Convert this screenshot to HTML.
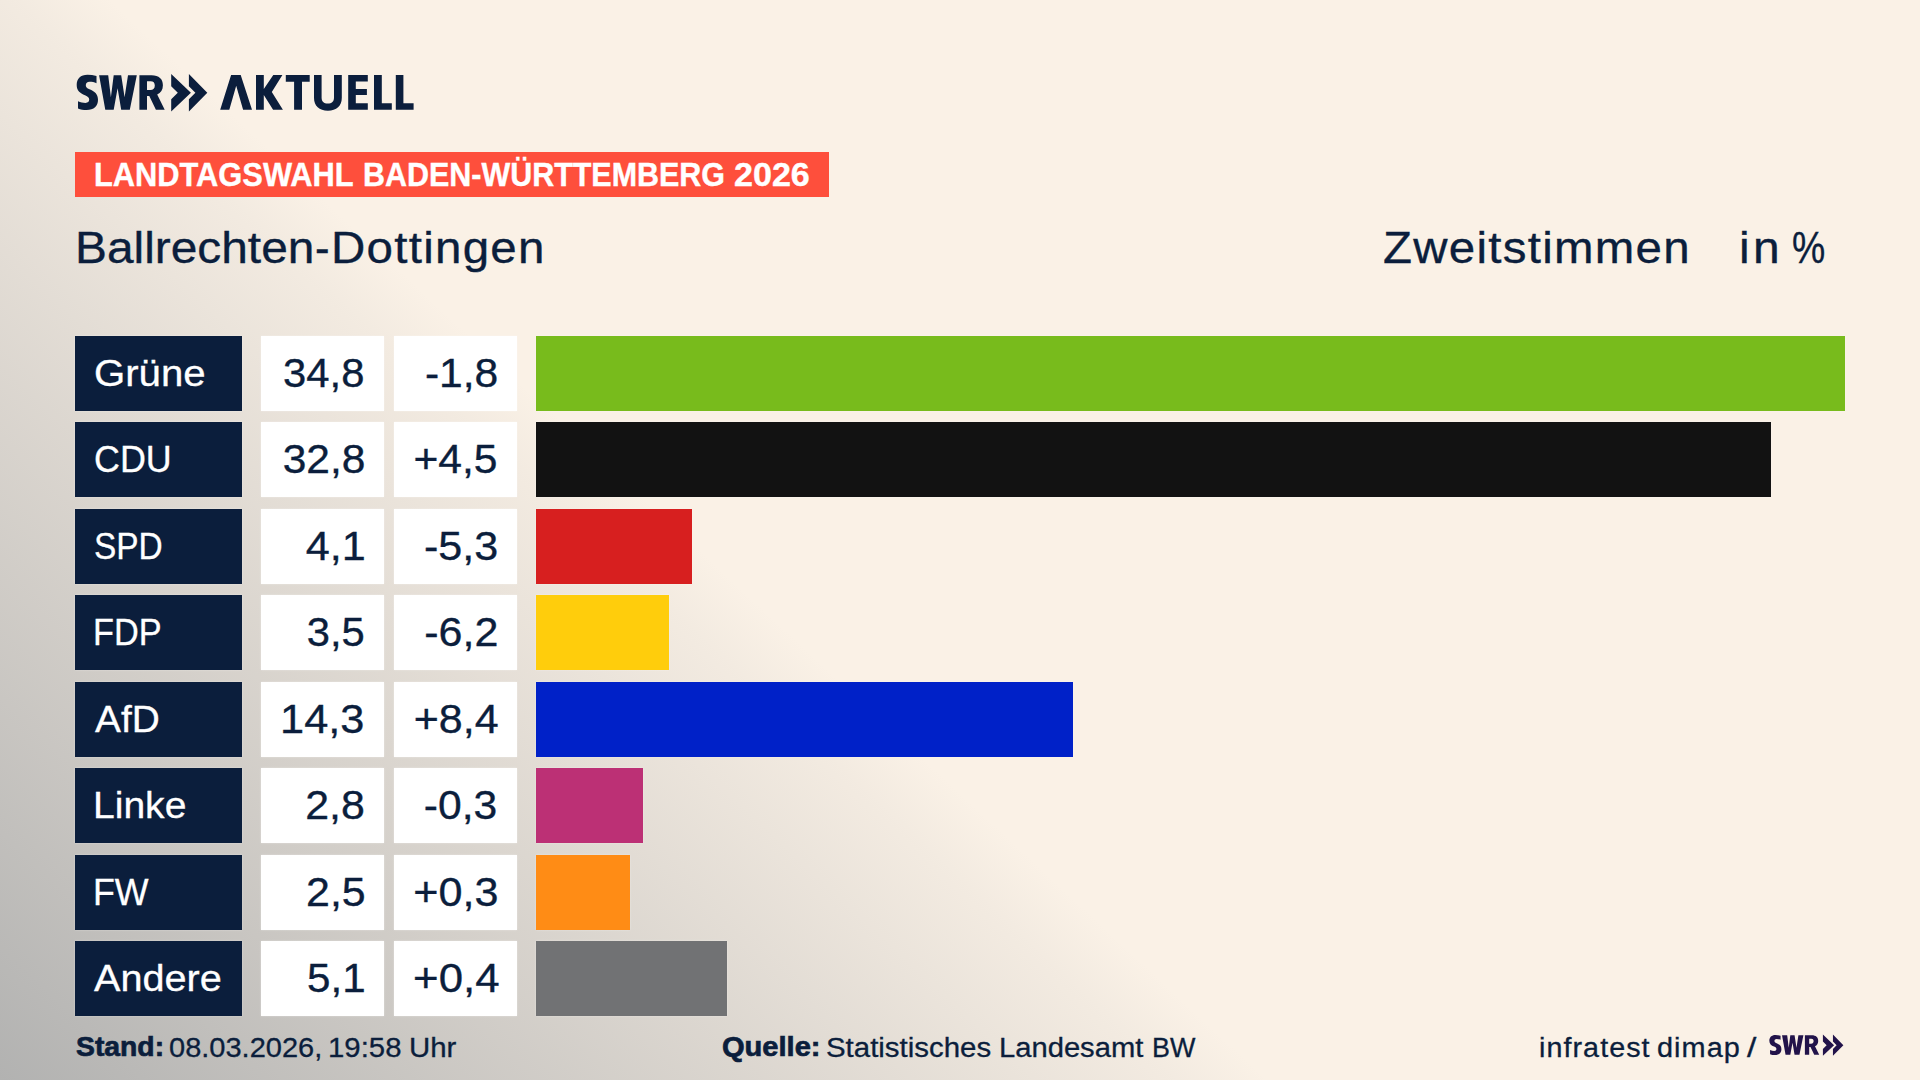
<!DOCTYPE html>
<html lang="de">
<head>
<meta charset="utf-8">
<title>Landtagswahl Baden-Württemberg 2026 – Ballrechten-Dottingen</title>
<style>
html,body{margin:0;padding:0;}
body{
  width:1920px;height:1080px;overflow:hidden;position:relative;
  font-family:"Liberation Sans",sans-serif;color:#0b1e3c;
  background:
    linear-gradient(43deg, rgba(178,178,177,1) 0px, rgba(178,178,177,.66) 300px, rgba(178,178,177,.42) 520px, rgba(178,178,177,.1) 800px, rgba(178,178,177,0) 865px),
    #faf1e6;
}
.abs{position:absolute;white-space:nowrap;line-height:1;}
#banner{left:75px;top:152px;width:753.5px;height:44.5px;background:#fe4f3c;}
.bt{font-weight:bold;font-size:33px;color:#fff;-webkit-text-stroke:0.4px #fff;}
.hd{font-size:44.4px;-webkit-text-stroke:0.35px #0b1e3c;}
.box{position:absolute;height:75px;box-shadow:0 0 2px rgba(255,255,255,.4);}
.lab{left:75px;width:167px;background:#0b1e3c;}
.val{left:261px;width:123px;background:#fff;}
.dlt{left:394px;width:123px;background:#fff;}
.bar{left:536px;}
.lt{font-size:37px;color:#fff;-webkit-text-stroke:0.3px #fff;}
.nt{font-size:40.8px;-webkit-text-stroke:0.35px #0b1e3c;}
.ft{font-size:27px;-webkit-text-stroke:0.3px #0b1e3c;}
.fb{font-size:28.5px;font-weight:bold;-webkit-text-stroke:0.7px #0b1e3c;}
</style>
</head>
<body>

<svg class="abs" id="logo" style="left:70px;top:66px" width="360" height="52" viewBox="70 66 360 52">
  <defs>
    <g id="swrmark">
      <!-- S -->
      <path d="M96.5 76 C93.5 75.2 90.5 74.8 87.5 74.8 C80.5 74.8 76.7 78.8 76.7 85 C76.7 90.5 80 93.3 85 95.3 C88 96.5 89.2 97.8 89.2 99.6 C89.2 101.8 87.8 102.9 85.5 102.9 C83 102.9 80.5 102.3 78 101.2 L78 108.6 C80.5 109.6 83.5 110.1 86.5 110.1 C94 110.1 98 106.3 98 99.8 C98 94 94.5 91.3 89.5 89.3 C86.8 88.2 85.8 87 85.8 85.2 C85.8 83 87.2 81.8 89.5 81.8 C92 81.8 94.3 82.3 96.5 83.2 Z"/>
      <!-- W -->
      <path d="M99.1 75.3 L108.2 75.3 L110.9 97.2 L113.7 75.3 L121.2 75.3 L124.6 97.2 L128 75.3 L136.8 75.3 L129.8 109.7 L121.2 109.7 L117.6 88.3 L113.7 109.7 L105.3 109.7 Z"/>
      <!-- R -->
      <path fill-rule="evenodd" d="M139.4 75.3 L151.5 75.3 C159 75.3 162.9 79 162.9 85.2 C162.9 89.8 160.8 92.9 157.2 94.5 L164.7 109.7 L155.9 109.7 L149.3 96.1 L147 96.1 L147 109.7 L139.4 109.7 Z M147 81.3 L150.6 81.3 C153.4 81.3 154.8 82.8 154.8 85.6 C154.8 88.5 153.3 90.1 150.4 90.1 L147 90.1 Z"/>
      <!-- chevrons -->
      <path d="M171.2 74 L190.9 92.75 L171.2 111.5 L171.2 99.3 L177.8 92.75 L171.2 86.2 Z"/>
      <path d="M188.9 74 L207.3 92.75 L188.9 111.5 L188.9 99.3 L195.4 92.75 L188.9 86.2 Z"/>
    </g>
  </defs>
  <g fill="#0b1e3c">
    <use href="#swrmark"/>
    <!-- AKTUELL -->
    <path d="M220.2 109.8 L231.1 75.1 H240.7 L252 109.8 H243.1 L236.2 85.8 L229.3 109.8 Z"/>
    <path d="M256 75.1 H263.8 V88.9 L273.3 75.1 H282.4 L271.8 92 L282.9 109.8 H273.1 L263.8 95.1 V109.8 H256 Z"/>
    <path d="M285.8 75.1 H309.7 V81.8 H302 V109.8 H294.1 V81.8 H285.8 Z"/>
    <path d="M314 75.1 H321.6 V97.5 C321.6 101.5 323.8 103.6 327.8 103.6 C331.8 103.6 334 101.5 334 97.5 V75.1 H341.8 V97.8 C341.8 106 336.5 110.7 327.9 110.7 C319.3 110.7 314 106 314 97.8 Z"/>
    <path d="M348.2 75.1 H367.8 V81.6 H355.8 V88.9 H366.9 V94.9 H355.8 V103.3 H367.8 V109.8 H348.2 Z"/>
    <path d="M374 75.1 H381.8 V103.3 H391.8 V109.8 H374 Z"/>
    <path d="M395.8 75.1 H403.4 V103.3 H413.6 V109.8 H395.8 Z"/>
  </g>
</svg>
<div class="abs" id="banner"></div>
<div class="abs bt" id="b1" style="left:94.07px;top:157.57px;transform:scaleX(0.9337);transform-origin:0 0;">LANDTAGSWAHL</div>
<div class="abs bt" id="b2" style="left:362.89px;top:157.57px;transform:scaleX(0.9229);transform-origin:0 0;">BADEN-WÜRTTEMBERG</div>
<div class="abs bt" id="b3" style="left:733.60px;top:157.57px;transform:scaleX(1.0327);transform-origin:0 0;">2026</div>
<div class="abs hd" id="p1" style="left:75.45px;top:225.90px;transform:scaleX(1.0778);transform-origin:0 0;">Ballrechten</div>
<div class="abs hd" id="p2" style="left:315.12px;top:225.90px;transform:scaleX(0.9842);transform-origin:0 0;">-</div>
<div class="abs hd" id="p3" style="left:330.80px;top:225.90px;transform:scaleX(1.0691);transform-origin:0 0;letter-spacing:1.2px;">Dottingen</div>
<div class="abs hd" id="zweit" style="left:1382.64px;top:225.90px;transform:scaleX(1.0685);transform-origin:0 0;letter-spacing:1.2px;">Zweitstimmen</div>
<div class="abs hd" id="i1" style="left:1738.78px;top:225.90px;transform:scaleX(1.0796);transform-origin:0 0;letter-spacing:3px;">in</div>
<div class="abs hd" id="i2" style="left:1791.79px;top:225.90px;transform:scaleX(0.8422);transform-origin:0 0;">%</div>

<!-- result rows -->
<div class="box lab" style="top:336.0px"></div><div class="box val" style="top:336.0px"></div><div class="box dlt" style="top:336.0px"></div><div class="box bar" style="top:336.0px;width:1309px;background:#78bb1c"></div>
<div class="box lab" style="top:422.0px"></div><div class="box val" style="top:422.0px"></div><div class="box dlt" style="top:422.0px"></div><div class="box bar" style="top:422.0px;width:1235px;background:#121212"></div>
<div class="box lab" style="top:509.0px"></div><div class="box val" style="top:509.0px"></div><div class="box dlt" style="top:509.0px"></div><div class="box bar" style="top:509.0px;width:156px;background:#d71f1f"></div>
<div class="box lab" style="top:595.0px"></div><div class="box val" style="top:595.0px"></div><div class="box dlt" style="top:595.0px"></div><div class="box bar" style="top:595.0px;width:133px;background:#ffcd0c"></div>
<div class="box lab" style="top:682.0px"></div><div class="box val" style="top:682.0px"></div><div class="box dlt" style="top:682.0px"></div><div class="box bar" style="top:682.0px;width:537px;background:#0021c8"></div>
<div class="box lab" style="top:768.0px"></div><div class="box val" style="top:768.0px"></div><div class="box dlt" style="top:768.0px"></div><div class="box bar" style="top:768.0px;width:107px;background:#bc3075"></div>
<div class="box lab" style="top:855.0px"></div><div class="box val" style="top:855.0px"></div><div class="box dlt" style="top:855.0px"></div><div class="box bar" style="top:855.0px;width:94px;background:#ff8c15"></div>
<div class="box lab" style="top:941.0px"></div><div class="box val" style="top:941.0px"></div><div class="box dlt" style="top:941.0px"></div><div class="box bar" style="top:941.0px;width:191px;background:#717274"></div>
<div class="abs lt" id="l0" style="left:93.67px;top:355.20px;transform:scaleX(1.0847);transform-origin:0 0;">Grüne</div>
<div class="abs nt" id="v0" style="right:1555.12px;top:353.10px;transform:scaleX(1.0249);transform-origin:100% 0;">34,8</div>
<div class="abs nt" id="d0" style="right:1421.98px;top:353.10px;transform:scaleX(1.0438);transform-origin:100% 0;">-1,8</div>
<div class="abs lt" id="l1" style="left:93.64px;top:441.20px;transform:scaleX(0.9693);transform-origin:0 0;">CDU</div>
<div class="abs nt" id="v1" style="right:1554.79px;top:439.10px;transform:scaleX(1.0419);transform-origin:100% 0;">32,8</div>
<div class="abs nt" id="d1" style="right:1422.21px;top:439.10px;transform:scaleX(1.0442);transform-origin:100% 0;">+4,5</div>
<div class="abs lt" id="l2" style="left:93.71px;top:528.20px;transform:scaleX(0.9033);transform-origin:0 0;">SPD</div>
<div class="abs nt" id="v2" style="right:1554.66px;top:526.10px;transform:scaleX(1.0578);transform-origin:100% 0;">4,1</div>
<div class="abs nt" id="d2" style="right:1421.93px;top:526.10px;transform:scaleX(1.0569);transform-origin:100% 0;">-5,3</div>
<div class="abs lt" id="l3" style="left:93.31px;top:614.20px;transform:scaleX(0.9264);transform-origin:0 0;">FDP</div>
<div class="abs nt" id="v3" style="right:1555.25px;top:612.10px;transform:scaleX(1.0239);transform-origin:100% 0;">3,5</div>
<div class="abs nt" id="d3" style="right:1421.92px;top:612.10px;transform:scaleX(1.0542);transform-origin:100% 0;">-6,2</div>
<div class="abs lt" id="l4" style="left:94.63px;top:701.20px;transform:scaleX(1.0492);transform-origin:0 0;">AfD</div>
<div class="abs nt" id="v4" style="right:1555.12px;top:699.10px;transform:scaleX(1.0615);transform-origin:100% 0;">14,3</div>
<div class="abs nt" id="d4" style="right:1421.16px;top:699.10px;transform:scaleX(1.0525);transform-origin:100% 0;">+8,4</div>
<div class="abs lt" id="l5" style="left:92.97px;top:787.20px;transform:scaleX(1.0553);transform-origin:0 0;">Linke</div>
<div class="abs nt" id="v5" style="right:1555.17px;top:785.10px;transform:scaleX(1.0506);transform-origin:100% 0;">2,8</div>
<div class="abs nt" id="d5" style="right:1422.55px;top:785.10px;transform:scaleX(1.0449);transform-origin:100% 0;">-0,3</div>
<div class="abs lt" id="l6" style="left:92.90px;top:874.20px;transform:scaleX(0.9668);transform-origin:0 0;">FW</div>
<div class="abs nt" id="v6" style="right:1554.70px;top:872.10px;transform:scaleX(1.0519);transform-origin:100% 0;">2,5</div>
<div class="abs nt" id="d6" style="right:1421.63px;top:872.10px;transform:scaleX(1.0579);transform-origin:100% 0;">+0,3</div>
<div class="abs lt" id="l7" style="left:94.22px;top:960.20px;transform:scaleX(1.0710);transform-origin:0 0;">Andere</div>
<div class="abs nt" id="v7" style="right:1554.60px;top:958.10px;transform:scaleX(1.0332);transform-origin:100% 0;">5,1</div>
<div class="abs nt" id="d7" style="right:1420.44px;top:958.10px;transform:scaleX(1.0730);transform-origin:100% 0;">+0,4</div>

<!-- footer -->
<div class="abs fb" id="standb" style="left:75.78px;top:1032.20px;transform:scaleX(0.9937);transform-origin:0 0;">Stand:</div>
<div class="abs ft" id="dt1" style="left:169.23px;top:1034.60px;transform:scaleX(1.0747);transform-origin:0 0;">08.03.2026,</div>
<div class="abs ft" id="dt2" style="left:327.88px;top:1034.60px;transform:scaleX(1.0871);transform-origin:0 0;">19:58</div>
<div class="abs ft" id="dt3" style="left:408.79px;top:1034.60px;transform:scaleX(1.0890);transform-origin:0 0;">Uhr</div>
<div class="abs fb" id="quelleb" style="left:722.34px;top:1032.20px;transform:scaleX(1.0201);transform-origin:0 0;">Quelle:</div>
<div class="abs ft" id="st1" style="left:825.56px;top:1034.60px;transform:scaleX(1.0895);transform-origin:0 0;">Statistisches</div>
<div class="abs ft" id="st2" style="left:999.12px;top:1034.60px;transform:scaleX(1.0805);transform-origin:0 0;">Landesamt</div>
<div class="abs ft" id="st3" style="left:1151.62px;top:1034.60px;transform:scaleX(0.9970);transform-origin:0 0;">BW</div>
<div class="abs ft" id="in1" style="left:1538.61px;top:1034.60px;transform:scaleX(1.0628);transform-origin:0 0;letter-spacing:1px;">infratest</div>
<div class="abs ft" id="in2" style="left:1656.55px;top:1034.60px;transform:scaleX(1.0692);transform-origin:0 0;letter-spacing:1px;">dimap</div>
<div class="abs ft" id="in3" style="left:1747.13px;top:1034.60px;transform:scaleX(1.2481);transform-origin:0 0;">/</div>
<svg class="abs" id="logosm" style="left:1760px;top:1026px" width="96" height="40" viewBox="0 0 96 40">
  <g fill="#22134a" transform="translate(9.5 9) scale(0.567) translate(-77 -74.8)"><use href="#swrmark"/></g>
</svg>
</body>
</html>
